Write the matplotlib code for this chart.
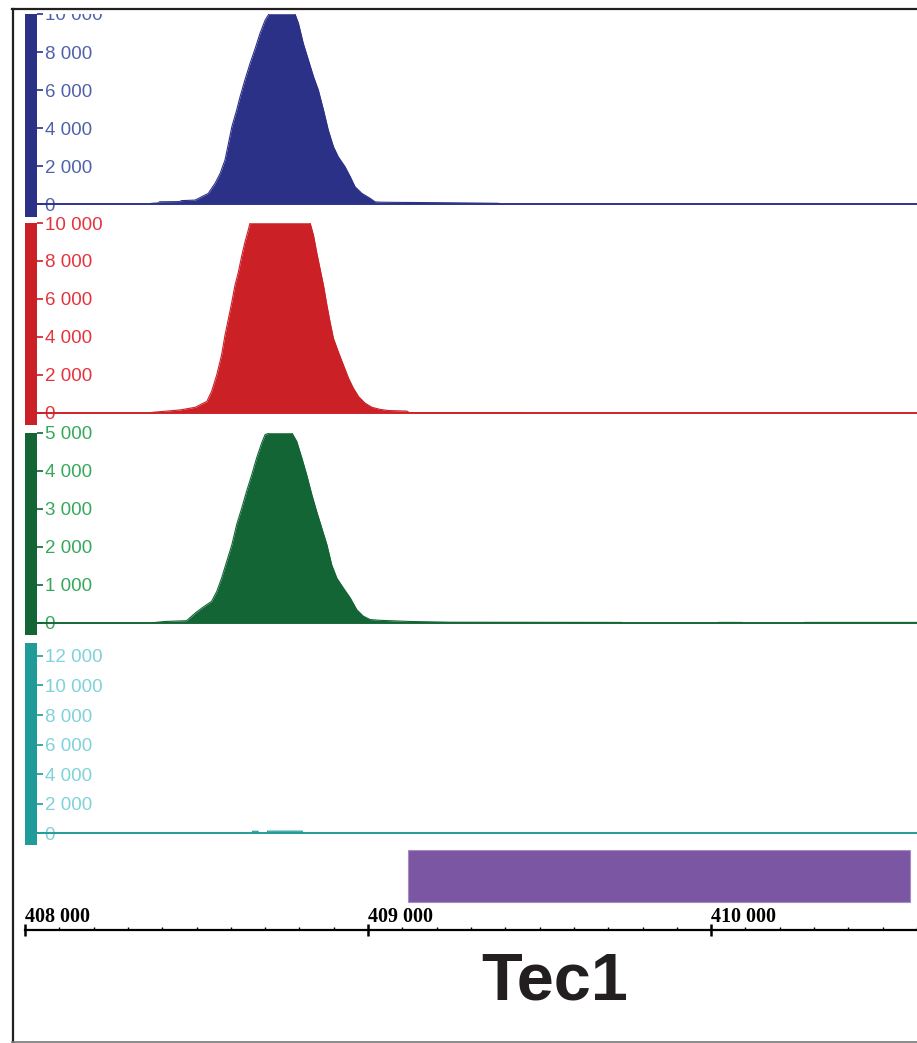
import numpy as np
import matplotlib
matplotlib.use("Agg")
import matplotlib.pyplot as plt
from matplotlib.patches import Rectangle
from matplotlib.lines import Line2D
from matplotlib.ticker import FuncFormatter, MultipleLocator

# genomic window (bp)
x_start, x_end = 408000, 410600

# coverage tracks (position in bp, reads)
blue_pos = [408000, 408360, 408370, 408389, 408392, 408452, 408455, 408496, 408534, 408554,
            408569, 408583, 408593, 408603, 408617, 408627, 408641, 408656, 408671, 408685,
            408700, 408711, 408787, 408797, 408811, 408826, 408841, 408855, 408870, 408884,
            408899, 408913, 408933, 408948, 408962, 408982, 409006, 409020, 409035, 409079,
            409224, 409380, 409385, 410600]
blue_val = [0, 0, 40, 60, 120, 130, 180, 210, 560, 1090,
            1620, 2320, 3190, 4070, 4950, 5650, 6530, 7400, 8190, 8980,
            9680, 10000, 10000, 9510, 8460, 7580, 6700, 6000, 4950, 3890,
            3020, 2490, 1960, 1440, 910, 560, 300, 120, 100, 90,
            70, 40, 0, 0]

red_pos = [408000, 408364, 408370, 408394, 408452, 408496, 408530, 408544, 408559, 408573,
           408583, 408593, 408603, 408612, 408622, 408632, 408641, 408649, 408656, 408831,
           408841, 408850, 408860, 408870, 408880, 408889, 408899, 408913, 408928, 408943,
           408957, 408972, 408991, 409011, 409035, 409059, 409113, 409120, 409448, 409452,
           410600]
red_val = [0, 0, 30, 70, 160, 300, 610, 1140, 2010, 3050,
           4100, 4970, 5850, 6720, 7420, 8290, 8990, 9510, 10000, 10000,
           9340, 8470, 7590, 6720, 5670, 4800, 3930, 3230, 2530, 1830,
           1310, 870, 520, 300, 190, 130, 100, 20, 20, 0,
           0]

green_pos = [408000, 408364, 408408, 408471, 408496, 408515, 408544, 408559, 408573, 408588,
             408603, 408617, 408632, 408646, 408661, 408675, 408690, 408700, 408714, 408778,
             408792, 408807, 408821, 408836, 408850, 408865, 408880, 408894, 408909, 408928,
             408948, 408967, 408986, 409006, 409035, 409122, 409239, 409740, 409745, 410017,
             410020, 410090, 410095, 410269, 410272, 410600]
green_val = [0, 0, 40, 60, 260, 390, 570, 830, 1180, 1620,
             2060, 2590, 3030, 3470, 3900, 4340, 4740, 4960, 5000, 5000,
             4780, 4340, 3900, 3380, 2940, 2500, 2060, 1530, 1180, 920,
             660, 350, 180, 90, 70, 40, 20, 15, 0, 0,
             15, 15, 0, 0, 15, 15]

cyan_pos = [408000, 408662, 408663, 408679, 408680, 408706, 408707, 408808, 408809, 410600]
cyan_val = [0, 0, 120, 120, 0, 0, 130, 130, 0, 0]

# gene model
gene_start, gene_end = 409117, 410580
gene_name = "Tec1"

W, H = 917, 1043
fig = plt.figure(figsize=(W / 100, H / 100), dpi=100)


def axes_px(left, top, right, bottom):
    return fig.add_axes([left / W, 1 - bottom / H, (right - left) / W, (bottom - top) / H])


def thousands(v, pos=None):
    return "{:,}".format(int(round(v))).replace(",", " ")


tracks = [
    (blue_pos, blue_val, "#2B3187", "#5061AA", (14, 217), (-680, 10000), 2000),
    (red_pos, red_val, "#CC2027", "#E4333B", (223, 425), (-632, 10000), 2000),
    (green_pos, green_val, "#136535", "#35A85A", (433, 635), (-316, 5000), 1000),
    (cyan_pos, cyan_val, "#1F9B99", "#7ED2D9", (643, 845), (-810, 12880), 2000),
]

left_px = 25
bar_w = 12
bar_frac = bar_w / (W - left_px)

for i, (pos, val, col, lab_col, (top, bot), ylim, step) in enumerate(tracks):
    ax = axes_px(left_px, top, W, bot)
    ax.set_xlim(x_start, x_end)
    ax.set_ylim(*ylim)
    ax.fill_between(pos, val, 0, color=col, lw=0)
    ax.plot(pos, val, color=col, lw=0.8)
    ax.axhline(0, color=col, lw=1.3, zorder=3)
    for s in ["top", "right", "bottom"]:
        ax.spines[s].set_visible(False)
    ax.spines["left"].set_position(("axes", bar_frac))
    ax.spines["left"].set_visible(False)
    ax.set_xticks([])
    top_tick = ylim[1] if i != 3 else 12000
    ax.set_yticks(np.arange(0, top_tick + 1, step))
    ax.yaxis.set_major_formatter(FuncFormatter(thousands))
    ax.tick_params(axis="y", direction="in", length=4, width=1.2, color=col,
                   pad=-5.5, labelcolor=lab_col, labelsize=13.5)
    for lab in ax.get_yticklabels():
        lab.set_horizontalalignment("left")
        lab.set_fontfamily(["Liberation Sans", "DejaVu Sans"])
        lab.set_bbox(dict(facecolor="white", edgecolor="none", pad=0.4))
        if i == 0:
            lab.set_clip_on(True)
            lab.set_clip_box(ax.bbox)
    ax.add_patch(Rectangle((0, 0), bar_frac, 1, transform=ax.transAxes,
                           facecolor=col, edgecolor="none", zorder=6, clip_on=False))
    ax.patch.set_alpha(0)

# gene bar
gax = axes_px(left_px, 846, W, 906)
gax.set_xlim(x_start, x_end)
gax.set_ylim(0, 1)
gax.barh(0.5, gene_end - gene_start, left=gene_start, height=0.86,
         color="#7B57A3", edgecolor="#A48CC4", lw=0.8)
gax.axis("off")

# coordinate ruler
rax = axes_px(left_px, 930, W, 960)
rax.set_xlim(x_start, x_end)
rax.set_yticks([])
for s in ["left", "right", "bottom"]:
    rax.spines[s].set_visible(False)
rax.spines["top"].set_linewidth(1.6)
rax.xaxis.tick_top()
rax.xaxis.set_major_locator(MultipleLocator(1000))
rax.xaxis.set_minor_locator(MultipleLocator(100))
rax.xaxis.set_major_formatter(FuncFormatter(thousands))
rax.tick_params(axis="x", which="major", direction="inout", length=8, width=1.8,
                pad=-1.5, labelsize=14.5)
rax.tick_params(axis="x", which="minor", direction="out", length=2.5, width=1.0)
for lab in rax.get_xticklabels():
    lab.set_horizontalalignment("left")
    lab.set_fontfamily(["Liberation Serif", "DejaVu Serif"])
    lab.set_fontweight("bold")
rax.patch.set_alpha(0)

fig.text(555 / W, 1 - 1000 / H, gene_name, ha="center", va="baseline",
         fontsize=48, fontweight="bold", color="#231F20",
         family=["Liberation Sans Narrow", "Liberation Sans", "DejaVu Sans"])

# outer frame
fig.add_artist(Line2D([12.5 / W, 12.5 / W], [1 - 9 / H, 1 - 1042 / H],
                      transform=fig.transFigure, color="#231F20", lw=1.6))
fig.add_artist(Line2D([12 / W, 1.0], [1 - 9 / H, 1 - 9 / H],
                      transform=fig.transFigure, color="#231F20", lw=1.6))
fig.add_artist(Line2D([12 / W, 1.0], [1 - 1041.5 / H, 1 - 1041.5 / H],
                      transform=fig.transFigure, color="#777777", lw=1.2))

fig.savefig("out.png", dpi=100)
